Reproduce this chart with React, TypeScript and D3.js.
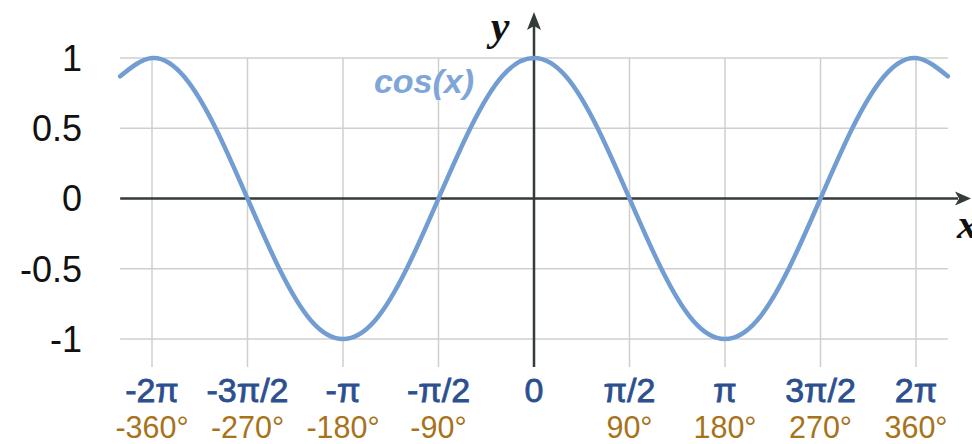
import React from "react";
import * as d3 from "d3";

// Curve samples (degrees)
const sampleDeg = [-390, -360, -330, -300, -270, -240, -210, -180, -150, -120, -90, -60, -30, 0, 30, 60, 90, 120, 150, 180, 210, 240, 270, 300, 330, 360, 390];
const sampleVal = [0.87, 1, 0.87, 0.5, 0, -0.5, -0.87, -1, -0.87, -0.5, 0, 0.5, 0.87, 1, 0.87, 0.5, 0, -0.5, -0.87, -1, -0.87, -0.5, 0, 0.5, 0.87, 1, 0.87];

const tickDeg = [-360, -270, -180, -90, 0, 90, 180, 270, 360];
const piLabels = ["-2π", "-3π/2", "-π", "-π/2", "0", "π/2", "π", "3π/2", "2π"];
const degLabels = ["-360°", "-270°", "-180°", "-90°", "", "90°", "180°", "270°", "360°"];
const yTicks = [1, 0.5, 0, -0.5, -1];
const yLabels = ["1", "0.5", "0", "-0.5", "-1"];
const seriesName = "cos(x)";

export default function App() {
  const W = 972, H = 444;
  const x = d3.scaleLinear().domain([-360, 360]).range([152, 916]);
  const y = d3.scaleLinear().domain([-1, 1]).range([339, 58]);
  const left = x(-390), right = x(390);
  const gridBottom = 367;
  const pts = sampleDeg.map((d, i) => [d, sampleVal[i]] as [number, number]);
  const line = d3.line<[number, number]>().x(d => x(d[0])).y(d => y(d[1])).curve(d3.curveNatural);
  const sans = "'Liberation Sans', Arial, sans-serif";
  const serif = "'Liberation Serif', 'Times New Roman', serif";
  const axisCol = "#333b3b";
  const x0 = x(0), y0 = y(0);
  return (
    <div style={{ position: "fixed", left: 0, top: 0, width: W, height: H, background: "#fff" }}>
      <svg width={W} height={H} viewBox={`0 0 ${W} ${H}`}>
        {/* horizontal grid */}
        {yTicks.filter(t => t !== 0).map(t => (
          <line key={"h" + t} x1={left} x2={right} y1={y(t)} y2={y(t)} stroke="#cfcfcf" strokeWidth={1.5} />
        ))}
        {/* vertical grid */}
        {tickDeg.filter(t => t !== 0).map(t => (
          <line key={"v" + t} x1={x(t)} x2={x(t)} y1={y(1)} y2={gridBottom} stroke="#cfcfcf" strokeWidth={1.5} />
        ))}
        {/* x axis */}
        <line x1={left} x2={958} y1={y0} y2={y0} stroke={axisCol} strokeWidth={2.5} />
        <path d={`M${971},${y0} L${955},${y0 - 7} L${959},${y0} L${955},${y0 + 7} Z`} fill={axisCol} />
        {/* y axis */}
        <line x1={x0} x2={x0} y1={gridBottom} y2={25} stroke={axisCol} strokeWidth={2.5} />
        <path d={`M${x0},${12} L${x0 - 7},${30} L${x0},${26} L${x0 + 7},${30} Z`} fill={axisCol} />
        {/* curve */}
        <path d={line(pts) || ""} fill="none" stroke="#729dd2" strokeWidth={4.5} strokeLinecap="round" />
        {/* y labels */}
        {yTicks.map((t, i) => (
          <text key={"yl" + t} x={82} y={y(t)} dy="0.36em" textAnchor="end" fontFamily={sans} fontSize={36} fill="#111">{yLabels[i]}</text>
        ))}
        {/* x labels */}
        {tickDeg.map((t, i) => (
          <text key={"pl" + t} x={x(t)} y={402} textAnchor="middle" fontFamily={sans} fontSize={34} fill="#2c4f8f" stroke="#2c4f8f" strokeWidth={0.8}>{piLabels[i]}</text>
        ))}
        {tickDeg.map((t, i) => (
          <text key={"dl" + t} x={x(t)} y={437.5} textAnchor="middle" fontFamily={sans} fontSize={30.5} fill="#a8721a">{degLabels[i]}</text>
        ))}
        <text x={424} y={93} textAnchor="middle" fontFamily={sans} fontStyle="italic" fontWeight="bold" fontSize={34} fill="#7fa6d8">{seriesName}</text>
        <text x={500} y={40} textAnchor="middle" fontFamily={serif} fontStyle="italic" fontWeight="bold" fontSize={42} fill="#111">y</text>
        <text x={957} y={238} fontFamily={serif} fontStyle="italic" fontWeight="bold" fontSize={42} fill="#111">x</text>
      </svg>
    </div>
  );
}
